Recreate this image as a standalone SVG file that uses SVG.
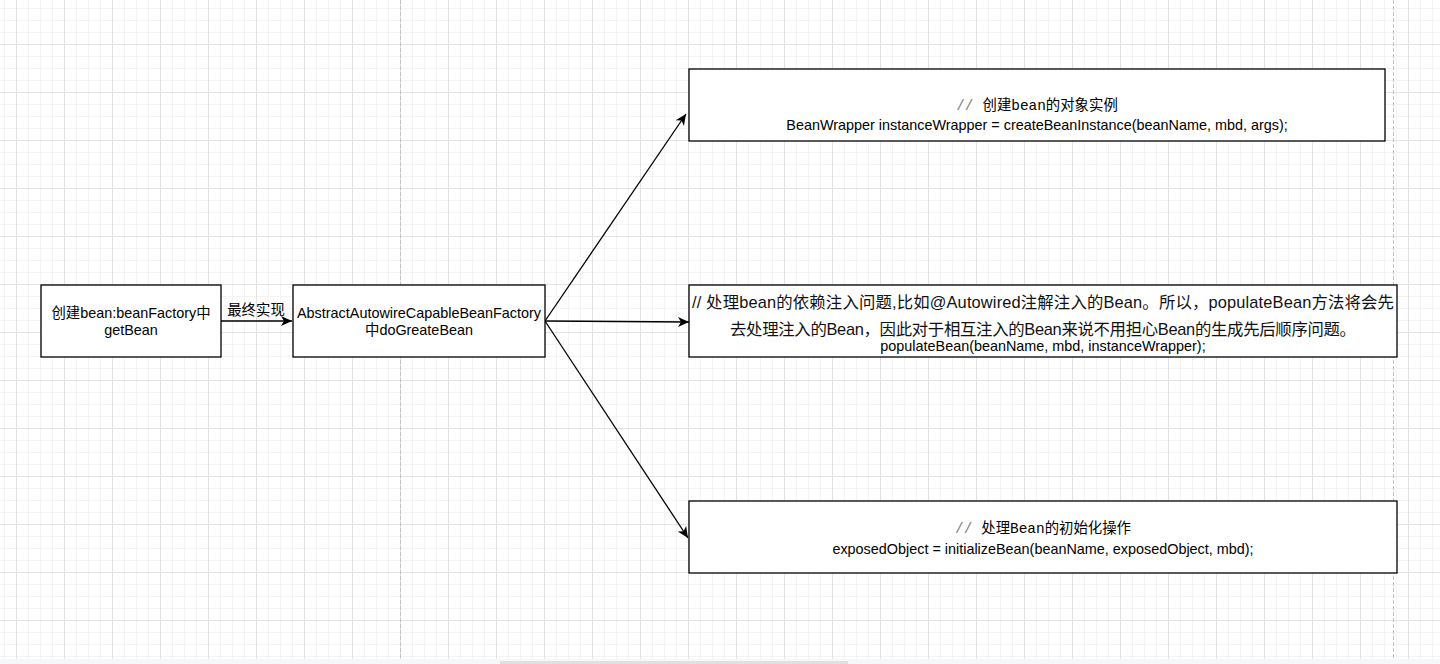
<svg xmlns="http://www.w3.org/2000/svg" width="1440" height="664" viewBox="0 0 1440 664">
<style>
.box{fill:#ffffff;stroke:#000000;stroke-width:1.3}
.t{font-family:"Liberation Sans","Noto Sans CJK SC",Arial,sans-serif;font-size:14.4px;fill:#000;text-anchor:middle}
.big{font-family:"Liberation Sans","Noto Sans CJK SC",Arial,sans-serif;font-size:16.4px;fill:#111;text-anchor:middle}
.mono{font-family:"Liberation Mono","Noto Sans CJK SC",monospace}
.cm{fill:#808080}
.edge{fill:none;stroke:#000;stroke-width:1.3}
.page{stroke:#c2c2c2;stroke-width:1;stroke-dasharray:4,2}
</style>
<defs>
<pattern id="minor" width="12" height="12" patternUnits="userSpaceOnUse" x="4" y="8">
<path d="M0.5,0 V12 M0,0.5 H12" stroke="#f3f3f3" stroke-width="1" fill="none"/>
</pattern>
<pattern id="major" width="48" height="48" patternUnits="userSpaceOnUse" x="16" y="44">
<path d="M0.5,0 V48 M0,0.5 H48" stroke="#e2e2e2" stroke-width="1" fill="none"/>
</pattern>
<marker id="arr" markerUnits="userSpaceOnUse" markerWidth="14" markerHeight="12" viewBox="-12 -6 14 12" refX="0" refY="0" orient="auto">
<path d="M0,0 L-11,-5 L-8,0 L-11,5 Z" fill="#000"/>
</marker>
</defs>
<rect x="0" y="0" width="1440" height="664" fill="#ffffff"/>
<rect x="0" y="0" width="1440" height="659" fill="url(#minor)"/>
<rect x="0" y="0" width="1440" height="659" fill="url(#major)"/>
<rect x="0" y="659" width="1440" height="5" fill="#f6f7f8"/>
<rect x="500" y="661" width="348" height="3" fill="#e0e0e0"/>
<line class="page" x1="400.5" y1="0" x2="400.5" y2="659"/>
<line class="page" x1="1393.5" y1="0" x2="1393.5" y2="659"/>

<g id="connectors">
<line class="edge" x1="221" y1="321" x2="292" y2="321" marker-end="url(#arr)"/>
<text class="t" x="256" y="315">最终实现</text>
<line class="edge" x1="545" y1="321" x2="686" y2="114" marker-end="url(#arr)"/>
<line class="edge" x1="545" y1="321" x2="689" y2="322" marker-end="url(#arr)"/>
<line class="edge" x1="545" y1="321" x2="688" y2="538" marker-end="url(#arr)"/>
</g>

<g id="node1">
<rect class="box" x="41" y="285" width="180" height="72"/>
<text class="t" x="131" y="318">创建bean:beanFactory中</text>
<text class="t" x="131" y="335">getBean</text>
</g>

<g id="node2">
<rect class="box" x="293" y="285" width="252" height="72"/>
<text class="t" x="419" y="318">AbstractAutowireCapableBeanFactory</text>
<text class="t" x="419" y="335">中doGreateBean</text>
</g>

<g id="node3">
<rect class="box" x="689" y="69" width="696" height="72"/>
<text class="t" x="1037" y="110"><tspan class="mono cm">//</tspan><tspan dx="9">创建</tspan><tspan class="mono">bean</tspan><tspan>的对象实例</tspan></text>
<text class="t" x="1037" y="130">BeanWrapper instanceWrapper = createBeanInstance(beanName, mbd, args);</text>
</g>

<g id="node4">
<rect class="box" x="689" y="285" width="708" height="72"/>
<text class="big" x="1043" y="308" textLength="702">// 处理bean的依赖注入问题,比如@Autowired注解注入的Bean。所以，populateBean方法将会先</text>
<text class="big" x="1043" y="335" textLength="626">去处理注入的Bean，因此对于相互注入的Bean来说不用担心Bean的生成先后顺序问题。</text>
<text class="t" x="1043" y="351">populateBean(beanName, mbd, instanceWrapper);</text>
</g>

<g id="node5">
<rect class="box" x="689" y="501" width="708" height="72"/>
<text class="t" x="1043" y="533"><tspan class="mono cm">//</tspan><tspan dx="9">处理</tspan><tspan class="mono">Bean</tspan><tspan>的初始化操作</tspan></text>
<text class="t" x="1043" y="554">exposedObject = initializeBean(beanName, exposedObject, mbd);</text>
</g>
</svg>
